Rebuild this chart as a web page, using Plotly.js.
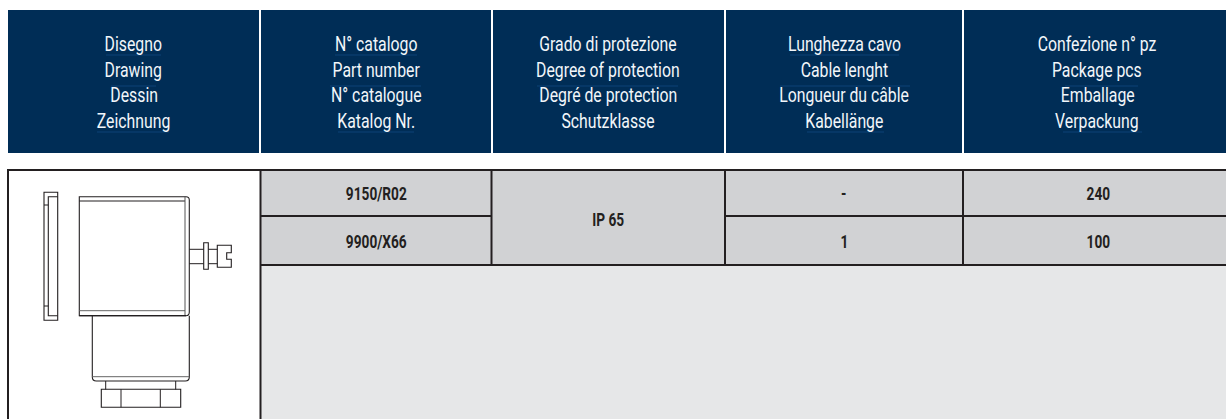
<!DOCTYPE html>
<html><head><meta charset="utf-8">
<script src="https://cdn.plot.ly/plotly-3.0.1.min.js"></script>
<style>html,body{margin:0;padding:0;background:#fff}#c{width:1226px;height:419px}</style>
</head><body><div id="c"></div>
<script>
var headers = [
 ["Disegno","Drawing","Dessin","Zeichnung"],
 ["N° catalogo","Part number","N° catalogue","Katalog Nr."],
 ["Grado di protezione","Degree of protection","Degré de protection","Schutzklasse"],
 ["Lunghezza cavo","Cable lenght","Longueur du câble","Kabellänge"],
 ["Confezione n° pz","Package pcs","Emballage","Verpackung"]
];
var partNumbers = ["9150/R02","9900/X66"];
var protection = "IP 65";
var cableLength = ["-","1"];
var packagePcs = ["240","100"];

var NAVY="#002d56", INK="#231f20", G1="#d1d2d4", G2="#e6e7e8", FAINT="#0d4276";
var FONT="Roboto,sans-serif";
var shapes=[], ann=[];
function rect(x0,y0,x1,y1,fill){shapes.push({type:"rect",x0:x0,y0:y0,x1:x1,y1:y1,fillcolor:fill,line:{width:0},layer:"below"});}
function line(x0,y0,x1,y1,w,c){shapes.push({type:"line",x0:x0,y0:y0,x1:x1,y1:y1,line:{width:w||2,color:c||INK}});}
function path(d,w,c){shapes.push({type:"path",path:d,line:{width:w||1.1,color:c||INK},fillcolor:"rgba(0,0,0,0)"});}
function text(t,x,y,size,color,bold){ann.push({text:bold?"<b>"+t+"</b>":t,x:x,y:y,xref:"x",yref:"y",showarrow:false,xanchor:"center",yanchor:"middle",font:{family:FONT,size:size,color:color}});}

// header
var hx=[[8,259],[261,491],[493,724],[726,962],[964,1226]];
var hc=[133.5,376,608,844,1097];
var hy=[44,70,95,121];
hx.forEach(function(b,i){rect(b[0],10,b[1],153,NAVY);
  headers[i].forEach(function(t,j){text(t,hc[i],hy[j],20,"#f2f6fa",false);});});
// faint hairlines in the header band
[[106,161,55],[111,156,86],[97,169,132],[335,417,55],[330,421,86],[338,414,132],
 [537,678,86],[790,899,55],[780,910,86],[807,884,132],[1065,1138,86],[1063,1142,132]
].forEach(function(s){line(s[0],s[2],s[1],s[2],1,FAINT);});

// table fills
rect(261,171,1226,265,G1); rect(261,265,1226,419,G2);
// table grid
line(7,170,1226,170,2); line(8,170,8,419,2); line(260.5,170,260.5,419,2);
line(491.5,170,491.5,265,2); line(725,170,725,265,2); line(963,170,963,265,2);
line(261,216,491,216,2); line(725,216,1226,216,2); line(261,265,1226,265,2);

// table text
var ry=[193,241];
ry.forEach(function(y,i){
  text(partNumbers[i],hc[1],y,19,INK,true);
  text(cableLength[i],hc[3],y,19,INK,true);
  text(packagePcs[i],1098,y,19,INK,true);
});
text(protection,hc[2],219,19,INK,true);

// drawing
path("M44,192.3H57.7V320.3H44Z");
path("M57.7,196.7H48.3V315.7H57.7");
line(44,205,48.3,205,1); line(44,306,48.3,306,1);
path("M79.3,196.7H186Q189.3,196.7 189.3,200V312Q189.3,315.7 186,315.7H79.3Z");
line(79.3,201,185,201,1.1); line(79.3,310.7,185,310.7,1,"#666"); line(185,196.7,185,315.7,1,"#555");
line(79.3,315.7,186,315.7,1.3);
path("M92.3,315.7V377Q92.3,381 96.3,381H185.3Q189.3,381 189.3,377V315.7");
line(92.3,376.7,189.3,376.7,1,"#666");
line(105.7,381,105.7,389.5,1); line(175.7,381,175.7,389.5,1);
path("M101.3,389.3H180.7V407.3H101.3Z");
line(121,389.3,121,407.3,1); line(160.3,389.3,160.3,407.3,1);
line(189.3,249.3,203.7,249.3,1); line(189.3,263.7,203.7,263.7,1);
path("M203.7,242.7H208.3V269.3H203.7Z");
line(208.3,249.3,217.3,249.3,1); line(208.3,263.7,217.3,263.7,1);
path("M217.3,245.3H231.3V252.7H226.7V259.3H231.3V267.3H217.3Z");

var ax={range:[0,1226],visible:false,fixedrange:true,showgrid:false,zeroline:false};
var ay={range:[419,0],visible:false,fixedrange:true,showgrid:false,zeroline:false};
function condense(){
  document.querySelectorAll("#c .annotation-text").forEach(function(el){
    var k=el.querySelector("tspan")?0.72:0.79;
    el.setAttribute("textLength",(el.getComputedTextLength()*k).toFixed(2));
    el.setAttribute("lengthAdjust","spacingAndGlyphs");
  });
}
Plotly.newPlot("c",[],{width:1226,height:419,margin:{l:0,r:0,t:0,b:0},paper_bgcolor:"#fff",plot_bgcolor:"#fff",
  xaxis:ax,yaxis:ay,shapes:shapes,annotations:ann,showlegend:false},{displayModeBar:false,staticPlot:true}).then(condense);
</script></body></html>
